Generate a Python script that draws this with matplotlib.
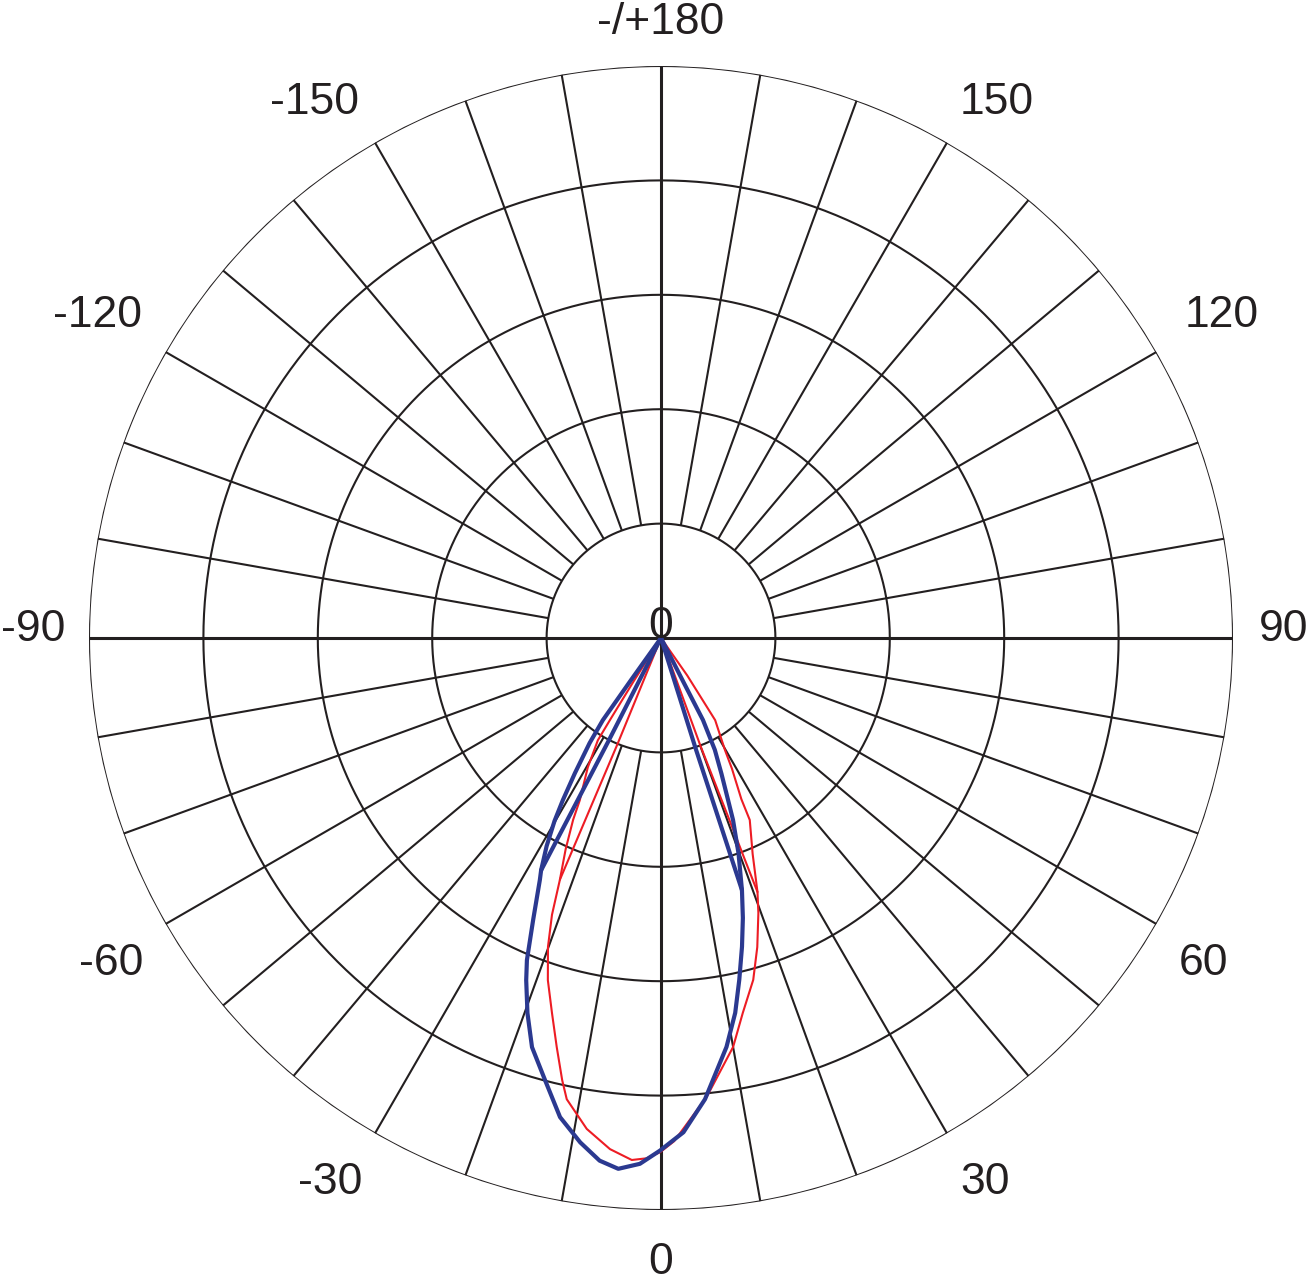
import numpy as np
import matplotlib
matplotlib.use("Agg")
import matplotlib.pyplot as plt
from matplotlib.transforms import offset_copy

# ---------------- data ----------------
tick_angles = [0, 30, 60, 90, 120, 150, 180, -150, -120, -90, -60, -30]
tick_labels = ["0", "30", "60", "90", "120", "150", "-/+180", "-150", "-120", "-90", "-60", "-30"]
ring_values = [0.2, 0.4, 0.6, 0.8, 1.0]
center_label = "0"

# blue curve (main lobe, degrees / relative radius)
blue_theta = [-35.5, -35.5, -35.3, -34.2, -32.5, -31.2, -30.2, -28.8, -27.3,
              -26.6, -24.4, -22.6, -21.5, -19.6, -17.5, -14.7, -11.9, -9.1, -6.7,
              -4.6, -2.3, -0.1, 2.6, 5.45, 6.7, 9.1, 11.2, 12.9, 14.7, 16.3, 17.8,
              19.8, 21.6, 22.5, 24.0, 25.7, 27.1, 27.0, 26.5]
blue_r = [0.0, 0.09, 0.176, 0.222, 0.28, 0.331, 0.37, 0.415, 0.457,
          0.473, 0.541, 0.61, 0.643, 0.696, 0.75, 0.799, 0.856, 0.893, 0.920,
          0.931, 0.920, 0.896, 0.865, 0.81, 0.778, 0.724, 0.668, 0.613, 0.558, 0.51, 0.463,
          0.40, 0.342, 0.306, 0.26, 0.217, 0.161, 0.09, 0.0]
# blue inner branches
blue_in_l_theta = [-26.6, -27.0, -27.3]
blue_in_l_r = [0.0, 0.2, 0.457]
blue_in_r_theta = [16.3, 17.4, 17.8]
blue_in_r_r = [0.0, 0.2, 0.463]

# red curve
red_theta = [-32.5, -32.3, -31.9, -31.7, -29.5, -26.6, -25.8, -24.3, -22.7,
             -21.5, -20.1, -18.3, -16.2, -14.3, -12.6, -11.55, -8.6, -5.7, -3.2, -1.6,
             -0.1, 1.5, 5.7, 10.0, 12.3, 15.1, 17.3, 19.5, 20.8,
             23.0, 26.0, 26.5, 28.5, 29.7, 33.4, 35.0, 36.0]
red_r = [0.0, 0.09, 0.168, 0.21, 0.26, 0.317, 0.353, 0.405, 0.458,
         0.52, 0.575, 0.63, 0.683, 0.738, 0.792, 0.823, 0.868, 0.898, 0.914, 0.91,
         0.899, 0.88, 0.806, 0.726, 0.671, 0.619, 0.566, 0.51, 0.475,
         0.41, 0.354, 0.315, 0.26, 0.226, 0.172, 0.08, 0.0]
red_in_l_theta = [-20.7, -22.3, -22.7]
red_in_l_r = [0.0, 0.2, 0.458]
red_in_r_theta = [19.3, 20.1, 20.8]
red_in_r_r = [0.0, 0.2, 0.475]

# ---------------- style ----------------
GRID = "#231f20"
BLUE = "#2b3990"
RED = "#ed1c24"
FONT = "Liberation Sans"
FS = 32

W, H = 1310, 1277
fig = plt.figure(figsize=(W / 100, H / 100), dpi=100)
cx, cy, R = 661, 639, 572
ax = fig.add_axes([(cx - R) / W, (cy - R) / H, 2 * R / W, 2 * R / H], projection="polar")
ax.set_theta_zero_location("S")
ax.set_theta_direction(1)
ax.set_ylim(0, 1)
ax.set_xticks([])
ax.set_yticks([])
ax.grid(False)
ax.spines["polar"].set_visible(False)
ax.patch.set_alpha(0)

d = np.deg2rad
full = np.linspace(0, 2 * np.pi, 721)
for rv in ring_values:
    ax.plot(full, np.full_like(full, rv), color=GRID, lw=1.5, solid_capstyle="butt")
for a in range(0, 360, 10):
    if a % 90 == 0:
        ax.plot([d(a), d(a)], [0, 1], color=GRID, lw=2.2, solid_capstyle="butt")
    else:
        ax.plot([d(a), d(a)], [ring_values[0], 1], color=GRID, lw=1.5, solid_capstyle="butt")

# curves
kw_r = dict(color=RED, lw=1.5, solid_joinstyle="round", solid_capstyle="round")
kw_b = dict(color=BLUE, lw=3.0, solid_joinstyle="round", solid_capstyle="round")
ax.plot(d(np.array(red_theta)), red_r, **kw_r)
ax.plot(d(np.array(red_in_l_theta)), red_in_l_r, **kw_r)
ax.plot(d(np.array(red_in_r_theta)), red_in_r_r, **kw_r)
ax.plot(d(np.array(blue_theta)), blue_r, **kw_b)
ax.plot(d(np.array(blue_in_l_theta)), blue_in_l_r, **kw_b)
ax.plot(d(np.array(blue_in_r_theta)), blue_in_r_r, **kw_b)

# angle labels just outside the outer circle
rl = 1.045
for a, lab in zip(tick_angles, tick_labels):
    s, c = np.sin(d(a)), np.cos(d(a))
    ha = "center" if abs(s) < 1e-6 else ("left" if s > 0 else "right")
    dx_px, dy_px = 0, 0
    r_here = rl
    if abs(c) < 1e-6:
        va = "baseline"
        dy_px = -3
        dx_px = 2 if s < 0 else 0
    elif c > 0:
        va = "top"
        dy_px = -6
    else:
        va = "baseline"
        r_here = rl + 0.012
        if abs(abs(a) - 120) < 1:
            dy_px = 9
            dx_px = 5 if s < 0 else 0
        elif abs(abs(a) - 150) < 1:
            dx_px = -4 if s > 0 else 0
        else:
            dy_px = -1
    tr = offset_copy(ax.transData, fig=fig, x=dx_px, y=dy_px, units="dots")
    ax.text(d(a), r_here, lab, ha=ha, va=va, fontsize=FS, family=FONT,
            color=GRID, clip_on=False, transform=tr)

ax.text(0, 0, center_label, ha="center", va="baseline", fontsize=FS, family=FONT,
        color=GRID, clip_on=False)

fig.savefig("out.png", dpi=100)
